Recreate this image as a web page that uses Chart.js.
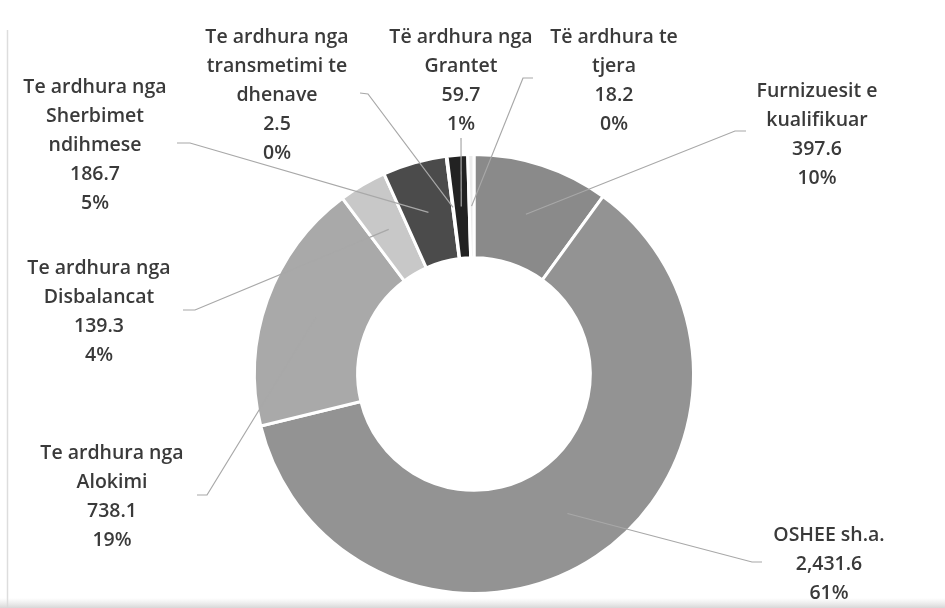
<!DOCTYPE html>
<html>
<head>
<meta charset="utf-8">
<script src="https://cdn.jsdelivr.net/npm/chart.js@4/dist/chart.umd.min.js"></script>
<style>
  html, body { margin: 0; padding: 0; background: #ffffff; }
  #wrap { width: 945px; height: 608px; position: relative; }
</style>
</head>
<body>
<div id="wrap"><canvas id="revenueDonut" width="945" height="608"></canvas></div>
<script>
// burimet e te ardhurave (vlerat nga grafiku)
const categories = [
  ['Furnizuesit e', 'kualifikuar'],
  ['OSHEE sh.a.'],
  ['Te ardhura nga', 'Alokimi'],
  ['Te ardhura nga', 'Disbalancat'],
  ['Te ardhura nga', 'Sherbimet', 'ndihmese'],
  ['Te ardhura nga', 'transmetimi te', 'dhenave'],
  ['Të ardhura nga', 'Grantet'],
  ['Të ardhura te', 'tjera']
];
const values = [397.6, 2431.6, 738.1, 139.3, 186.7, 2.5, 59.7, 18.2];
const percentLabels = ['10%', '61%', '19%', '4%', '5%', '0%', '1%', '0%'];
const sliceColors = ['#8a8a8a', '#939393', '#a9a9a9', '#c8c8c8', '#4b4b4b', '#707070', '#222222', '#ececec'];

// vendndodhja e etiketave: qendra x, y e rreshtit te pare, pikat e vijes drejt etiketes
const labelLayout = [
  { x: 817, y: 91, line: [[746, 131], [735, 131]] },
  { x: 829, y: 535, line: [[762, 562], [752, 562]] },
  { x: 112, y: 453, line: [[197, 495], [207, 495]] },
  { x: 99, y: 268, line: [[183, 310], [195, 310]] },
  { x: 95, y: 87, line: [[177, 143], [190, 143]] },
  { x: 277, y: 37, line: [[360, 93], [368, 94]] },
  { x: 461, y: 37, line: [[461, 138]] },
  { x: 614, y: 37, line: [[533, 78], [523, 78]] }
];

const fmt = function (v) {
  return v.toLocaleString('en-US', { minimumFractionDigits: 1, maximumFractionDigits: 1 });
};

const backdrop = {
  id: 'backdrop',
  beforeDraw: function (chart) {
    const c = chart.ctx;
    c.save();
    c.fillStyle = '#ffffff';
    c.fillRect(0, 0, chart.width, chart.height);
    // kufiri i skanimit
    c.strokeStyle = '#dddddd';
    c.lineWidth = 1.5;
    c.beginPath();
    c.moveTo(7.5, 30);
    c.lineTo(7.5, 608);
    c.stroke();
    const g = c.createLinearGradient(0, 598, 0, 608);
    g.addColorStop(0, 'rgba(225,225,225,0)');
    g.addColorStop(1, 'rgba(215,215,215,1)');
    c.fillStyle = g;
    c.fillRect(0, 598, chart.width, 10);
    c.restore();
  }
};

const calloutLabels = {
  id: 'calloutLabels',
  afterDatasetsDraw: function (chart) {
    const c = chart.ctx;
    const meta = chart.getDatasetMeta(0);
    c.save();
    // vijat udhezuese
    c.strokeStyle = '#a8a8a8';
    c.lineWidth = 1.2;
    meta.data.forEach(function (arc, i) {
      const p = arc.getCenterPoint();
      const pts = labelLayout[i].line;
      c.beginPath();
      c.moveTo(pts[0][0], pts[0][1]);
      for (let k = 1; k < pts.length; k++) c.lineTo(pts[k][0], pts[k][1]);
      c.lineTo(p.x, p.y);
      c.stroke();
    });
    // tekstet
    c.fillStyle = '#3a3a3a';
    c.font = '600 19.5px "Open Sans", "Noto Sans", sans-serif';
    c.textAlign = 'center';
    c.textBaseline = 'middle';
    meta.data.forEach(function (arc, i) {
      const lines = categories[i].concat([fmt(values[i]), percentLabels[i]]);
      const lay = labelLayout[i];
      lines.forEach(function (t, k) {
        c.fillText(t, lay.x, lay.y + k * 29);
      });
    });
    c.restore();
  }
};

new Chart(document.getElementById('revenueDonut'), {
  type: 'doughnut',
  data: {
    labels: categories.map(function (l) { return l.join(' '); }),
    datasets: [{
      data: values,
      backgroundColor: sliceColors,
      borderColor: '#ffffff',
      borderWidth: 3
    }]
  },
  options: {
    responsive: false,
    animation: false,
    cutout: '53%',
    layout: { padding: { top: 153, bottom: 13, left: 253, right: 250 } },
    plugins: {
      legend: { display: false },
      tooltip: { enabled: false }
    }
  },
  plugins: [backdrop, calloutLabels]
});
</script>
</body>
</html>
